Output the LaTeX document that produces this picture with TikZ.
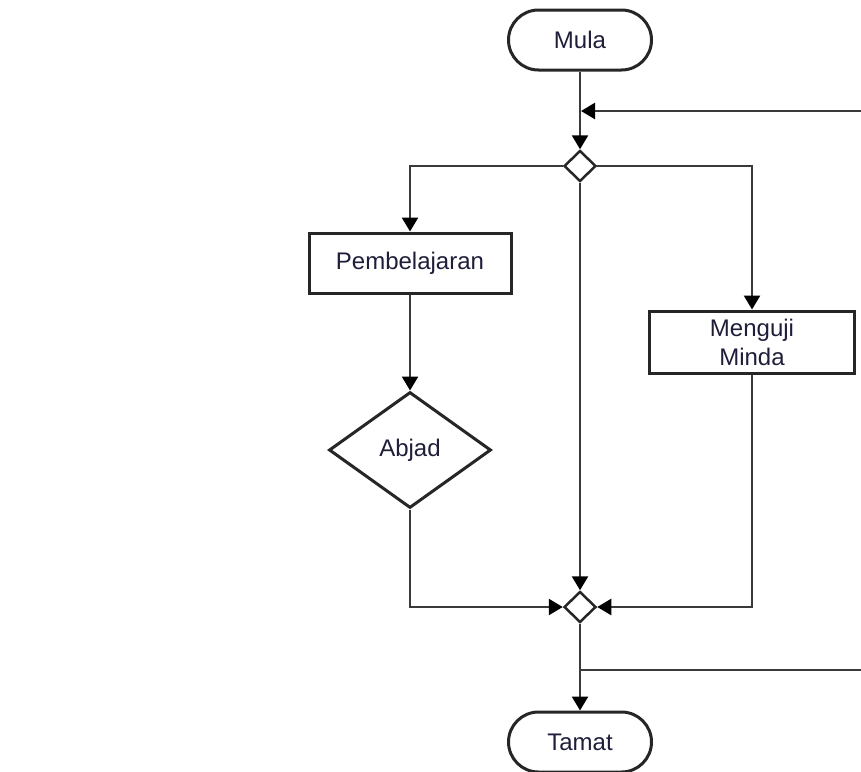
\documentclass[tikz,border=0pt]{standalone}
\usepackage{fontspec}
\setmainfont{Liberation Sans}
\usetikzlibrary{arrows.meta,shapes.geometric,shapes.misc}
\definecolor{linecol}{HTML}{3A3A3A}
\definecolor{boxcol}{HTML}{262626}
\definecolor{txtcol}{HTML}{1E1E3A}
\begin{document}
\begin{tikzpicture}[x=1pt,y=-1pt,
  base/.style={draw=boxcol,line width=3pt,fill=white,text=txtcol,
    font=\fontsize{24}{29}\selectfont,inner sep=0pt},
  terminal/.style={base,rounded rectangle,minimum width=143pt,minimum height=60pt},
  procbox/.style={base,rectangle,align=center},
  decision/.style={base,diamond,minimum width=162pt,minimum height=116pt},
  junction/.style={base,diamond,line width=2.5pt,minimum width=32pt,minimum height=31pt},
  conn/.style={draw=linecol,line width=2.5pt},
  arr/.style={conn,-{Triangle[length=14pt,width=16pt,color=black]}}]
\useasboundingbox (0,0) rectangle (861,771);
\fill[white] (0,0) rectangle (861,771);
% nodes
\node[terminal] (mula) at (580,40) {Mula};
\node[junction] (d1) at (580,166) {};
\node[procbox,minimum width=202pt,minimum height=60pt] (pemb) at (410,263) {Pembelajaran};
\node[procbox,minimum width=205pt,minimum height=62pt] (mind) at (752,342) {Menguji\\Minda};
\node[decision] (abjad) at (410,450) {Abjad};
\node[junction] (d2) at (580,607) {};
\node[terminal] (tamat) at (580,742) {Tamat};
% coordinates for loop ends
\coordinate (fbR) at (861,111);
\coordinate (fbJ) at (581,111);
\coordinate (br) at (580,670);
\coordinate (brR) at (861,670);
% connectors
\draw[arr] (mula.south) -- (d1.north);
\draw[arr] (fbR) -- (fbJ);
\draw[arr] (d1.west) -| (pemb.north);
\draw[arr] (d1.east) -| (mind.north);
\draw[arr] (d1.south) -- (d2.north);
\draw[arr] (pemb.south) -- (abjad.north);
\draw[arr] (abjad.south) |- (d2.west);
\draw[arr] (mind.south) |- (d2.east);
\draw[arr] (d2.south) -- (tamat.north);
\draw[conn] (br) -- (brR);
\end{tikzpicture}
\end{document}
